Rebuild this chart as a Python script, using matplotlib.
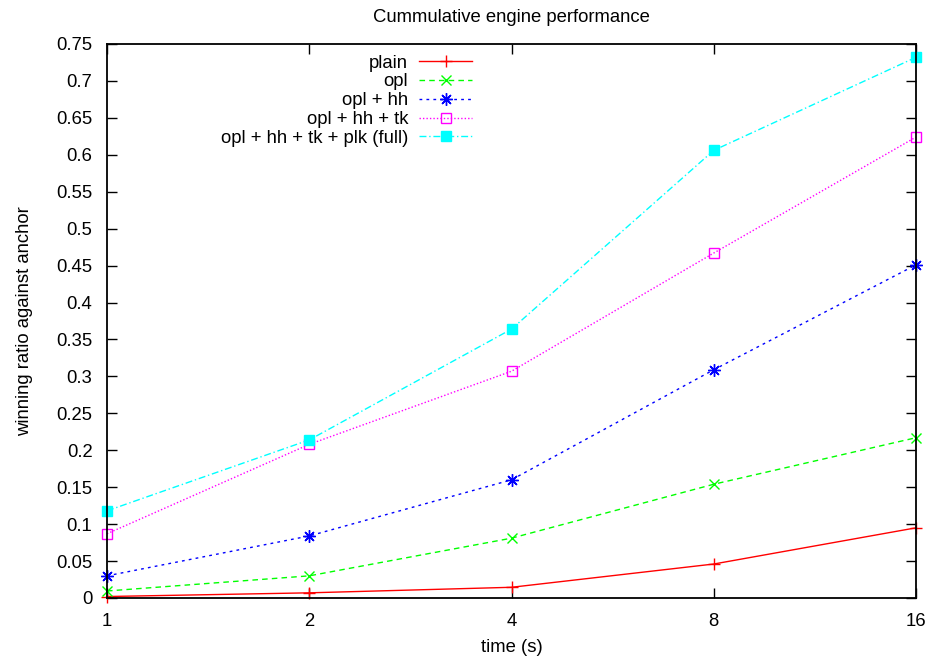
import matplotlib
matplotlib.use("Agg")
import matplotlib.pyplot as plt
import numpy as np

plt.rcParams['font.family'] = ['Liberation Sans', 'DejaVu Sans']

times = [1, 2, 4, 8, 16]
plain = [0.002, 0.007, 0.0145, 0.046, 0.095]
opl = [0.0095, 0.030, 0.081, 0.154, 0.217]
opl_hh = [0.030, 0.084, 0.160, 0.309, 0.451]
opl_hh_tk = [0.087, 0.208, 0.307, 0.467, 0.624]
full = [0.118, 0.214, 0.364, 0.606, 0.732]

labels = ["plain", "opl", "opl + hh", "opl + hh + tk", "opl + hh + tk + plk (full)"]
yticks = [0, 0.05, 0.1, 0.15, 0.2, 0.25, 0.3, 0.35, 0.4, 0.45, 0.5, 0.55, 0.6, 0.65, 0.7, 0.75]
ytick_labels = ["0", "0.05", "0.1", "0.15", "0.2", "0.25", "0.3", "0.35", "0.4", "0.45", "0.5",
                "0.55", "0.6", "0.65", "0.7", "0.75"]

FS = 13.3
fig = plt.figure(figsize=(9.33, 6.63), dpi=100)
ax = fig.add_axes([107/933, 1-598/663, (916-107)/933, (598-44)/663])

ms = 7.5
ax.plot(times, plain, color='#ff0000', lw=1, ls='-', marker='+', ms=ms*1.2, mew=1, label=labels[0], clip_on=False)
ax.plot(times, opl, color='#00ff00', lw=1, ls=(0, (4, 3)), marker='x', ms=ms, mew=1, label=labels[1], clip_on=False)
ax.plot(times, opl_hh, color='#0000ff', lw=1, ls=(0, (2, 3)), marker=(8, 2, 0), ms=ms*1.2, mew=1, label=labels[2], clip_on=False)
ax.plot(times, opl_hh_tk, color='#ff00ff', lw=1, ls=(0, (1, 1.5)), marker='s', ms=ms, mew=1,
        mfc='none', label=labels[3], clip_on=False)
ax.plot(times, full, color='#00ffff', lw=1, ls=(0, (5, 2, 1, 2)), marker='s', ms=ms, mew=1,
        label=labels[4], clip_on=False)

ax.set_xscale('log', base=2)
ax.set_xlim(1, 16)
ax.set_ylim(0, 0.75)
ax.set_xticks(times)
ax.set_xticklabels([str(t) for t in times])
ax.xaxis.set_minor_locator(matplotlib.ticker.NullLocator())
ax.set_yticks(yticks)
ax.set_yticklabels(ytick_labels)

ax.tick_params(direction='in', length=7, width=1, top=True, right=True, labelsize=FS, pad=10.5, color='black')
for s in ax.spines.values():
    s.set_linewidth(1.3)

ax.set_title("Cummulative engine performance", fontsize=FS, pad=16)
ax.set_xlabel("time (s)", fontsize=FS, labelpad=7)
ax.set_ylabel("winning ratio against anchor", fontsize=FS, labelpad=17)

leg = ax.legend(loc='upper right', bbox_to_anchor=(472/933, 1-54.5/663), bbox_transform=fig.transFigure,
                markerfirst=False, frameon=False, fontsize=FS, handlelength=2.85, handletextpad=0.6,
                labelspacing=0.1, borderaxespad=0, borderpad=0)

fig.savefig("out.png", dpi=100)
